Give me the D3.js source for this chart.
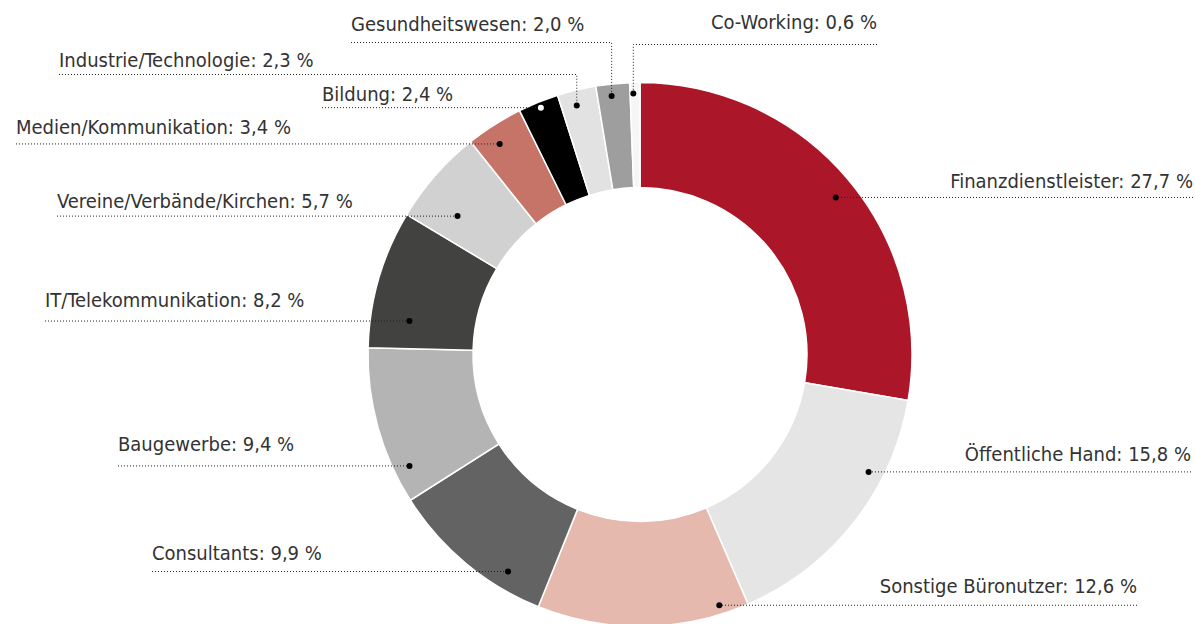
<!DOCTYPE html>
<html>
<head>
<meta charset="utf-8">
<script src="https://cdn.jsdelivr.net/npm/d3@7"></script>
<style>
  html, body { margin: 0; padding: 0; background: #fff; }
  svg { display: block; }
  .lbl { font-family: "DejaVu Sans Condensed", "Liberation Sans Narrow", sans-serif; font-size: 20px; fill: #333; }
</style>
</head>
<body>
<svg id="chart" width="1195" height="624"></svg>
<script>
// data, clockwise from 12 o'clock
var categories = ["Finanzdienstleister", "Öffentliche Hand", "Sonstige Büronutzer", "Consultants",
  "Baugewerbe", "IT/Telekommunikation", "Vereine/Verbände/Kirchen", "Medien/Kommunikation",
  "Bildung", "Industrie/Technologie", "Gesundheitswesen", "Co-Working"];
var values = [27.7, 15.8, 12.6, 9.9, 9.4, 8.2, 5.7, 3.4, 2.4, 2.3, 2.0, 0.6];

// styles
var colors = ["#ab1628", "#e5e5e5", "#e5b9ae", "#636363", "#b4b4b4", "#424240",
  "#d1d1d1", "#c77468", "#000000", "#e2e2e2", "#9e9e9e", "#f6f6f6"];

// label layout: where the dot sits inside its slice, and where the leader goes
var dotFrac   = [0.514, 0.307, 0.129, 0.262, 0.195, 0.231, 0.303, 0.396, 0.509, 0.41, 0.43, 0.32];
var dotRadius = [251, 257, 263, 254, 256, 233, 229, 253, 266, 257, 260, 261];
var labelSide = ["right", "right", "right", "left", "left", "left", "left", "left", "left", "left", "left", "right"];
var labelX    = [1193, 1191, 1137, 152, 118, 45, 57, 16, 322, 59, 351, 877];
var elbowY    = [null, null, null, null, null, null, null, null, null, 74.5, 42.5, 44.5];
var textDy    = [9, 11, 12, 12, 15, 14, 8, 10, 7, 8, 12, 16];

var cx = 640, cy = 354.5, outerR = 272, innerR = 167;

var svg = d3.select("#chart");
var g = svg.append("g").attr("transform", "translate(" + cx + "," + cy + ")");

var pie = d3.pie().sort(null).value(function(d) { return d; });
var arcs = pie(values);
var arc = d3.arc().innerRadius(innerR).outerRadius(outerR);

g.selectAll("path.slice")
  .data(arcs)
  .enter()
  .append("path")
  .attr("class", "slice")
  .attr("d", arc)
  .attr("fill", function(d, i) { return colors[i]; })
  .attr("stroke", "#fff")
  .attr("stroke-width", 1.5);

var fmt = d3.format(".1f");

var labels = arcs.map(function(a, i) {
  var ang = a.startAngle + dotFrac[i] * (a.endAngle - a.startAngle);
  var x = cx + Math.sin(ang) * dotRadius[i];
  var y = cy - Math.cos(ang) * dotRadius[i];
  return { i: i, x: x, y: y, lineY: elbowY[i] == null ? y : elbowY[i] };
});

var lines = svg.append("g");
labels.forEach(function(d) {
  var i = d.i;
  var pts = [[labelX[i], d.lineY], [d.x, d.lineY]];
  if (elbowY[i] != null) pts.push([d.x, d.y]);
  lines.append("path")
    .attr("d", d3.line()(pts))
    .attr("fill", "none")
    .attr("stroke", "#222")
    .attr("stroke-width", 1)
    .attr("stroke-dasharray", "1,2");
});

svg.append("g").selectAll("circle")
  .data(labels)
  .enter()
  .append("circle")
  .attr("cx", function(d) { return d.x; })
  .attr("cy", function(d) { return d.y; })
  .attr("r", 3)
  .attr("fill", function(d) { return colors[d.i] == "#000000" ? "#fff" : "#000"; });

svg.append("g").selectAll("text")
  .data(labels)
  .enter()
  .append("text")
  .attr("class", "lbl")
  .attr("x", function(d) { return labelX[d.i]; })
  .attr("y", function(d) { return d.lineY - textDy[d.i]; })
  .attr("text-anchor", function(d) { return labelSide[d.i] == "left" ? "start" : "end"; })
  .text(function(d) {
    return categories[d.i] + ": " + fmt(values[d.i]).replace(".", ",") + " %";
  });
</script>
</body>
</html>
